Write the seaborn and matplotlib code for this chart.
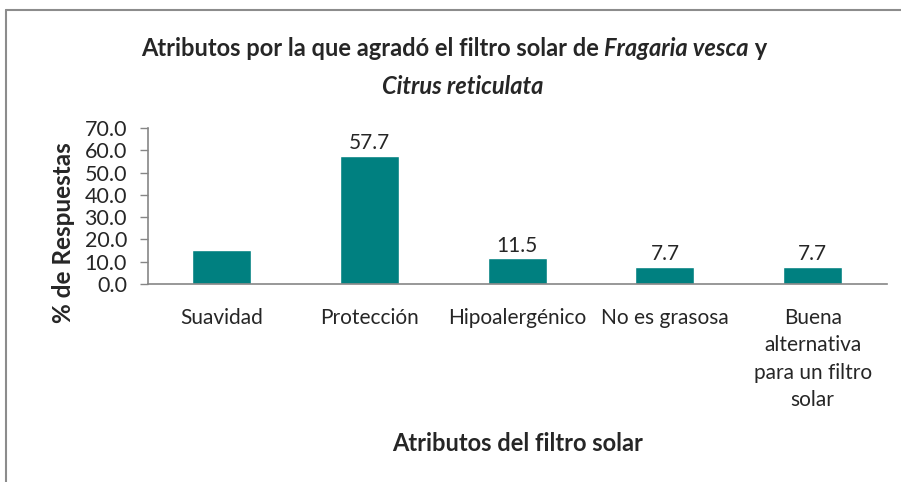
import matplotlib
matplotlib.use("Agg")
import matplotlib.pyplot as plt
import seaborn as sns
import pandas as pd
from matplotlib.lines import Line2D

categories = ["Suavidad", "Protección", "Hipoalergénico", "No es grasosa",
              "Buena\nalternativa\npara un filtro\nsolar"]
values = [15.4, 57.7, 11.5, 7.7, 7.7]
show_value = [False, True, True, True, True]
y_ticks = [0, 10, 20, 30, 40, 50, 60, 70]

sns.set_theme(style="white")
plt.rcParams["font.family"] = ["Lato", "DejaVu Sans"]

df = pd.DataFrame({"atributo": categories, "pct": values})

fig = plt.figure(figsize=(9.01, 4.82), dpi=100)
ax = fig.add_axes([0.164, 0.411, 0.820, 0.323])

sns.barplot(data=df, x="atributo", y="pct", color="#008080", width=0.4,
            saturation=1, ax=ax)

ax.set_ylim(0, 70)
ax.set_yticks(y_ticks)
ax.set_yticklabels([f"{t:.1f}" for t in y_ticks], fontsize=15.5)
ax.tick_params(axis="y", length=6, width=1, color="#868686", pad=9, left=True)
ax.tick_params(axis="x", length=0, pad=17, labelsize=15)
for lbl in ax.get_xticklabels():
    lbl.set_linespacing(1.47)

for side in ["top", "right"]:
    ax.spines[side].set_visible(False)
for side in ["left", "bottom"]:
    ax.spines[side].set_color("#868686")
    ax.spines[side].set_linewidth(1.2)

for i, (v, s) in enumerate(zip(values, show_value)):
    if s:
        ax.annotate(f"{v:.1f}", xy=(i, v), xytext=(0, 2), textcoords="offset points",
                    ha="center", va="bottom", fontsize=15)

ax.set_xlabel("Atributos del filtro solar", fontsize=17, fontweight="bold")
ax.set_ylabel("% de Respuestas", fontsize=17.5, fontweight="bold")
ax.xaxis.set_label_coords(0.5, -0.95)
ax.yaxis.set_label_coords(-0.099, 0.327)
ax.set_xlim(-0.5, len(categories) - 0.5)


def centered_runs(fig, runs, xc, y, size):
    """Draw text runs with mixed styles side by side, centred on xc (pixels)."""
    fig.canvas.draw()
    renderer = fig.canvas.get_renderer()
    items = []
    total = 0.0
    for txt, style in runs:
        t = fig.text(0, 0, txt, fontsize=size, fontweight="bold", fontstyle=style,
                     transform=None, va="baseline", ha="left")
        w = t.get_window_extent(renderer).width
        items.append((t, w))
        total += w
    x = xc - total / 2
    H = fig.bbox.height
    for t, w in items:
        t.set_position((x, H - y))
        x += w


centered_runs(fig, [("Atributos por la que agradó el filtro solar de ", "normal"),
                    ("Fragaria vesca", "italic"),
                    (" y", "normal")], 454, 56, 17)
centered_runs(fig, [("Citrus reticulata", "italic")], 463, 94, 17)

# outer frame of the chart area
H = fig.bbox.height
W = fig.bbox.width
fig.add_artist(Line2D([6, W], [H - 10, H - 10], transform=None, color="#8c8c8c", lw=1.5))
fig.add_artist(Line2D([6, 6], [0, H - 10], transform=None, color="#8c8c8c", lw=1.5))

fig.savefig("out.png", dpi=100)
